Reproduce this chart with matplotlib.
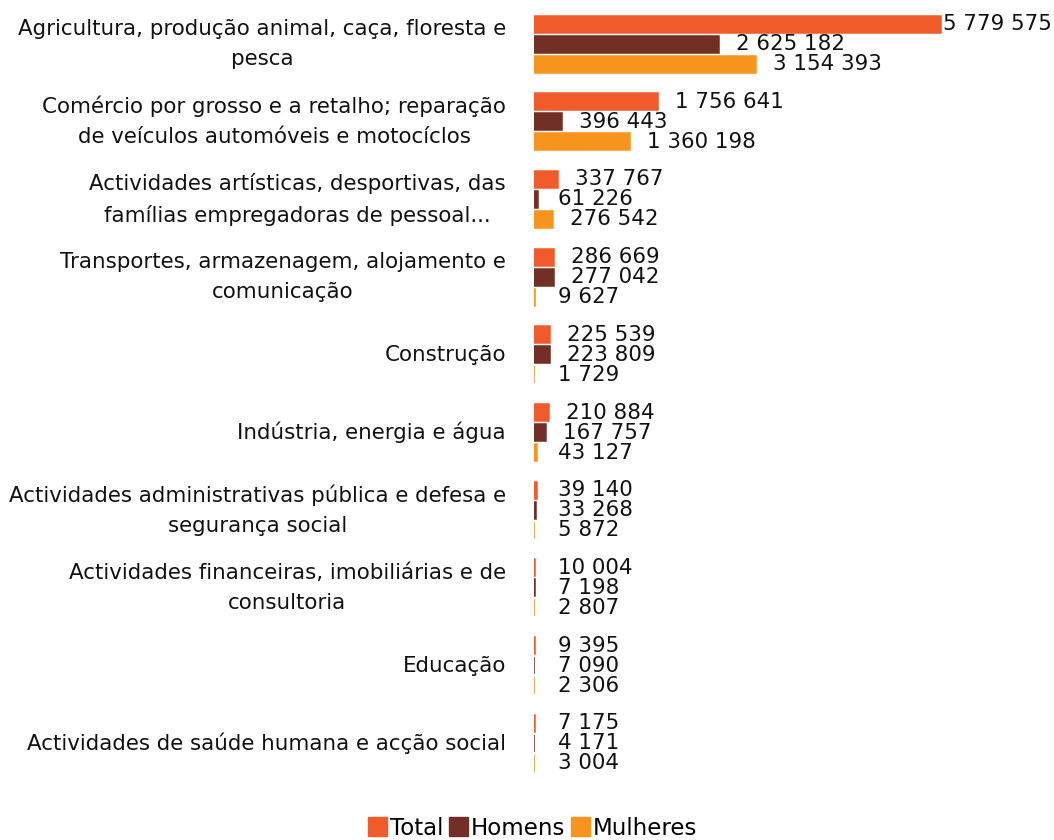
import matplotlib
matplotlib.use("Agg")
import matplotlib.pyplot as plt
from matplotlib.patches import Patch
import numpy as np

categories = [
    "Agricultura, produção animal, caça, floresta e\npesca",
    "Comércio por grosso e a retalho; reparação\nde veículos automóveis e motocíclos",
    "Actividades artísticas, desportivas, das\nfamílias empregadoras de pessoal...",
    "Transportes, armazenagem, alojamento e\ncomunicação",
    "Construção",
    "Indústria, energia e água",
    "Actividades administrativas pública e defesa e\nsegurança social",
    "Actividades financeiras, imobiliárias e de\nconsultoria",
    "Educação",
    "Actividades de saúde humana e acção social",
]
total = [5779575, 1756641, 337767, 286669, 225539, 210884, 39140, 10004, 9395, 7175]
homens = [2625182, 396443, 61226, 277042, 223809, 167757, 33268, 7198, 7090, 4171]
mulheres = [3154393, 1360198, 276542, 9627, 1729, 43127, 5872, 2807, 2306, 3004]
series_names = ["Total", "Homens", "Mulheres"]
colors = ["#F15A2B", "#722F25", "#F7941E"]

W, H = 1054, 840
fig = plt.figure(figsize=(W / 100, H / 100), dpi=100)
plt.rcParams['font.family'] = ['DejaVu Sans']
FS = 15.4

left_px, right_px = 534, 1054
top_px, bot_px = 0, 790
ax = fig.add_axes([left_px / W, 1 - bot_px / H, (right_px - left_px) / W, (bot_px - top_px) / H])
ax.set_axis_off()

ppu = 407 / 5779575.0
ax.set_xlim(0, (right_px - left_px) / ppu)
step = 77.7
ax.set_ylim((bot_px - 44) / step, (top_px - 44) / step)

offs = [-20 / step, 0, 20 / step]
bh = 17 / step
y = np.arange(len(categories))
value_texts = []
for s, (vals, off, c) in enumerate(zip([total, homens, mulheres], offs, colors)):
    ax.barh(y + off, vals, height=bh, color=c, edgecolor=c, linewidth=1.1)
    for yi, v in zip(y, vals):
        lab = f"{v:,}".replace(",", " ")
        xpx = max(v * ppu + 17, 24)
        t = ax.annotate(lab, xy=(0, yi + off), xytext=(xpx * 0.72, 0), textcoords='offset points',
                        ha='left', va='center', fontsize=FS, color='#111111', annotation_clip=False)
        value_texts.append((t, xpx))

for yi, cat in zip(y, categories):
    ax.annotate(cat, xy=(0, yi), xytext=(-28 * 0.72, 0), textcoords='offset points',
                ha='right', va='center', multialignment='center', fontsize=FS,
                linespacing=1.63, color='#111111', annotation_clip=False)

# keep value labels inside the figure
fig.canvas.draw()
r = fig.canvas.get_renderer()
for t, xpx in value_texts:
    bb = t.get_window_extent(r)
    if bb.x1 > W - 2:
        shift = bb.x1 - (W - 2)
        t.set_position(((xpx - shift) * 0.72, 0))

handles = [Patch(facecolor=c, edgecolor=c) for c in colors]
fig.legend(handles, series_names, loc='lower center', bbox_to_anchor=(0.505, -0.024), ncol=3,
           frameon=False, fontsize=16.5, handlelength=0.85, handleheight=0.85,
           handletextpad=0.1, columnspacing=0.25)

fig.savefig("out.png", dpi=100)
